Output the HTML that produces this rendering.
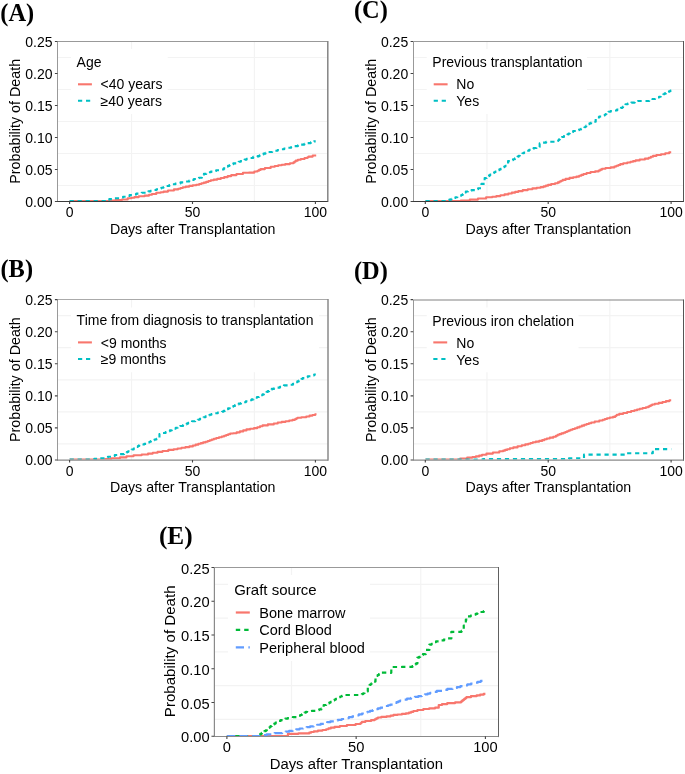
<!DOCTYPE html>
<html><head><meta charset="utf-8"><style>
html,body{margin:0;padding:0;background:#fff;}
body{width:685px;height:774px;overflow:hidden;}
svg{display:block;will-change:transform;}
text{font-family:"Liberation Sans", sans-serif;fill:#000;}
</style></head><body>
<svg width="685" height="774" viewBox="0 0 685 774">
<rect width="685" height="774" fill="#fff"/>
<path d="M131.55 41.5V201.5M254.45 41.5V201.5M57.5 185.5H327.9M57.5 153.5H327.9M57.5 121.5H327.9M57.5 89.5H327.9M57.5 57.5H327.9" stroke="#f3f3f3" stroke-width="1.2" fill="none"/>
<rect x="71" y="49" width="96.7" height="65" fill="#fff"/>
<clipPath id="clipA"><rect x="57.5" y="41.5" width="270.4" height="159.5"/></clipPath>
<g clip-path="url(#clipA)">
<path d="M69.6 201 110 201 111.25 201 111.25 200.6 112.5 200.6 115.45 200.6 115.45 200 118.4 200 121.9 200 121.9 199.5 125.4 199.5 127.7 199.5 127.7 198.3 130 198.3 131.47 198.3 131.47 197.7 134.43 197.7 134.43 197.1 135.9 197.1 138.8 197.1 138.8 196.3 141.7 196.3 144.65 196.3 144.65 195.6 147.6 195.6 149.05 195.6 149.05 194.8 151.95 194.8 151.95 194 153.4 194 156.3 194 156.3 192.8 159.2 192.8 160.67 192.8 160.67 192.2 163.62 192.2 163.62 191.6 165.1 191.6 168 191.6 168 190.5 170.9 190.5 173.95 190.5 173.95 189.4 177 189.4 178.17 189.4 178.17 188.7 180.5 188.7 180.5 188 182.83 188 182.83 187.3 184 187.3 185.75 187.3 185.75 186.6 189.25 186.6 189.25 185.9 191 185.9 192.75 185.9 192.75 185.3 196.25 185.3 196.25 184.7 198 184.7 199.17 184.7 199.17 184 201.5 184 201.5 183.3 203.83 183.3 203.83 182.6 205 182.6 206.17 182.6 206.17 181.83 208.5 181.83 208.5 181.07 210.83 181.07 210.83 180.3 212 180.3 213.75 180.3 213.75 179.6 217.25 179.6 217.25 178.9 219 178.9 220.75 178.9 220.75 178 224.25 178 224.25 177.1 226 177.1 227.75 177.1 227.75 176.1 231.25 176.1 231.25 175.1 233 175.1 236.5 175.1 236.5 174 240 174 242.95 174 242.95 172.8 245.9 172.8 248.95 172.8 248.95 172.6 252 172.6 254.35 172.6 254.35 171.5 256.7 171.5 257.48 171.5 257.48 170.7 259.05 170.7 259.05 169.9 260.62 169.9 260.62 169.1 261.4 169.1 264.9 169.1 264.9 168 268.4 168 270.7 168 270.7 166.8 273 166.8 274.75 166.8 274.75 166.05 278.25 166.05 278.25 165.3 280 165.3 281.75 165.3 281.75 164.7 285.25 164.7 285.25 164.1 287 164.1 289.95 164.1 289.95 163.3 292.9 163.3 293.48 163.3 293.48 162.4 294.65 162.4 294.65 161.5 295.82 161.5 295.82 160.6 296.4 160.6 297.85 160.6 297.85 159.8 300.75 159.8 300.75 159 302.2 159 304.55 159 304.55 158 306.9 158 307.47 158 307.47 157.3 308.62 157.3 308.62 156.6 309.2 156.6 312.7 156.6 312.7 155.5 316.2 155.5" stroke="#F8766D" stroke-width="2.1" fill="none" stroke-linejoin="round"/>
<path d="M69.6 201 106 201 106.9 201 106.9 199.8 107.8 199.8 109.3 199.8 109.3 199.1 110.8 199.1 114.3 199.1 114.3 198.3 117.8 198.3 119.55 198.3 119.55 197.55 123.05 197.55 123.05 196.8 124.8 196.8 126.4 196.8 126.4 195.95 129.6 195.95 129.6 195.1 131.2 195.1 132.95 195.1 132.95 194.35 136.45 194.35 136.45 193.6 138.2 193.6 141.7 193.6 141.7 192.8 145.2 192.8 146.27 192.8 146.27 192.1 148.4 192.1 148.4 191.4 150.53 191.4 150.53 190.7 151.6 190.7 153.22 190.7 153.22 189.95 156.47 189.95 156.47 189.2 158.1 189.2 159.17 189.2 159.17 188.47 161.3 188.47 161.3 187.73 163.43 187.73 163.43 187 164.5 187 166.1 187 166.1 186.05 169.3 186.05 169.3 185.1 170.9 185.1 172.43 185.1 172.43 184.3 175.47 184.3 175.47 183.5 177 183.5 180.5 183.5 180.5 182.4 184 182.4 185.75 182.4 185.75 181.5 189.25 181.5 189.25 180.6 191 180.6 191.98 180.6 191.98 179.83 193.95 179.83 193.95 179.07 195.92 179.07 195.92 178.3 196.9 178.3 198.95 178.3 198.95 177.7 201 177.7 201.85 177.7 201.85 174.8 202.7 174.8 203.88 174.8 203.88 173.9 206.22 173.9 206.22 173 207.4 173 208.57 173 208.57 172.3 210.9 172.3 210.9 171.6 213.23 171.6 213.23 170.9 214.4 170.9 216.15 170.9 216.15 170.2 219.65 170.2 219.65 169.5 221.4 169.5 223.7 169.5 223.7 168.4 226 168.4 226.3 168.4 226.3 167.5 226.9 167.5 226.9 166.6 227.2 166.6 227.98 166.6 227.98 165.83 229.55 165.83 229.55 165.07 231.12 165.07 231.12 164.3 231.9 164.3 233.35 164.3 233.35 163.4 236.25 163.4 236.25 162.5 237.7 162.5 238.68 162.5 238.68 161.8 240.65 161.8 240.65 161.1 242.62 161.1 242.62 160.4 243.6 160.4 244.62 160.4 244.62 159.6 246.65 159.6 246.65 158.8 248.68 158.8 248.68 158 249.7 158 253.2 158 253.2 156.9 256.7 156.9 257.67 156.9 257.67 156.1 259.6 156.1 259.6 155.3 261.53 155.3 261.53 154.5 262.5 154.5 263.48 154.5 263.48 153.67 265.45 153.67 265.45 152.83 267.42 152.83 267.42 152 268.4 152 272.2 152 272.2 150.8 276 150.8 277.6 150.8 277.6 150.05 280.8 150.05 280.8 149.3 282.4 149.3 284.15 149.3 284.15 148.55 287.65 148.55 287.65 147.8 289.4 147.8 291.15 147.8 291.15 146.95 294.65 146.95 294.65 146.1 296.4 146.1 298 146.1 298 145.35 301.2 145.35 301.2 144.6 302.8 144.6 304.4 144.6 304.4 143.85 307.6 143.85 307.6 143.1 309.2 143.1 310.82 143.1 310.82 142.25 314.07 142.25 314.07 141.4 315.7 141.4" stroke="#00BFC4" stroke-width="2.1" fill="none" stroke-linejoin="round" stroke-dasharray="4.2 3.8"/>
</g>
<path d="M57.5 41.5H327.8" stroke="#999" stroke-width="1"/>
<path d="M57.5 41.5V201.5" stroke="#999" stroke-width="1"/>
<path d="M327.8 41V202" stroke="#848484" stroke-width="1.5"/>
<path d="M57 201.5H327.8" stroke="#3a3a3a" stroke-width="1"/>
<path d="M54.9 201.5H57.5M54.9 169.5H57.5M54.9 137.5H57.5M54.9 105.5H57.5M54.9 73.5H57.5M54.9 41.5H57.5M69.6 201.5V204.1M192.5 201.5V204.1M315.4 201.5V204.1" stroke="#444" stroke-width="1.1" fill="none"/>
<text x="52.5" y="206.9" text-anchor="end" font-size="14">0.00</text>
<text x="52.5" y="174.9" text-anchor="end" font-size="14">0.05</text>
<text x="52.5" y="142.9" text-anchor="end" font-size="14">0.10</text>
<text x="52.5" y="110.9" text-anchor="end" font-size="14">0.15</text>
<text x="52.5" y="78.9" text-anchor="end" font-size="14">0.20</text>
<text x="52.5" y="46.9" text-anchor="end" font-size="14">0.25</text>
<text x="69.6" y="217" text-anchor="middle" font-size="14">0</text>
<text x="192.5" y="217" text-anchor="middle" font-size="14">50</text>
<text x="315.4" y="217" text-anchor="middle" font-size="14">100</text>
<text x="192.7" y="233.5" text-anchor="middle" font-size="14.2">Days after Transplantation</text>
<text transform="translate(19.9 121.3) rotate(-90)" text-anchor="middle" font-size="14.3">Probability of Death</text>
<text x="76.6" y="66.8" font-size="14">Age</text>
<path d="M78 84.3H91.9" stroke="#F8766D" stroke-width="2.1"/>
<text x="100.6" y="89.4" font-size="14">&lt;40 years</text>
<path d="M78 100.8H91.9" stroke="#00BFC4" stroke-width="2.1" stroke-dasharray="4.2 3.8"/>
<text x="100.6" y="105.9" font-size="14">≥40 years</text>
<text transform="translate(0.35 20.8) scale(1 1.036)" style="font-family:'Liberation Serif', serif;font-weight:bold" font-size="24.4">(A)</text>
<path d="M486.95 41.5V201.5M609.85 41.5V201.5M413.2 185.5H683.6M413.2 153.5H683.6M413.2 121.5H683.6M413.2 89.5H683.6M413.2 57.5H683.6" stroke="#f3f3f3" stroke-width="1.2" fill="none"/>
<rect x="426.7" y="49" width="160.3" height="65" fill="#fff"/>
<clipPath id="clipC"><rect x="413.2" y="41.5" width="270.4" height="159.5"/></clipPath>
<g clip-path="url(#clipC)">
<path d="M425.5 201 456 201 460.85 201 460.85 200.5 465.7 200.5 469.8 200.5 469.8 199.6 473.9 199.6 477.95 199.6 477.95 198.5 482 198.5 486.1 198.5 486.1 197.3 490.2 197.3 492.25 197.3 492.25 196.7 496.35 196.7 496.35 196.1 498.4 196.1 500.45 196.1 500.45 195.25 504.55 195.25 504.55 194.4 506.6 194.4 508.35 194.4 508.35 193.5 511.85 193.5 511.85 192.6 513.6 192.6 515.2 192.6 515.2 191.85 518.4 191.85 518.4 191.1 520 191.1 522.75 191.1 522.75 190.1 525.5 190.1 527.8 190.1 527.8 189.25 532.4 189.25 532.4 188.4 534.7 188.4 536.68 188.4 536.68 187.75 540.62 187.75 540.62 187.1 542.6 187.1 543.7 187.1 543.7 186.37 545.9 186.37 545.9 185.63 548.1 185.63 548.1 184.9 549.2 184.9 551.15 184.9 551.15 184.05 555.05 184.05 555.05 183.2 557 183.2 557.83 183.2 557.83 182.38 559.48 182.38 559.48 181.55 561.12 181.55 561.12 180.72 562.77 180.72 562.77 179.9 563.6 179.9 565.58 179.9 565.58 178.9 569.52 178.9 569.52 177.9 571.5 177.9 573.15 177.9 573.15 177.25 576.45 177.25 576.45 176.6 578.1 176.6 579.18 176.6 579.18 175.73 581.35 175.73 581.35 174.87 583.52 174.87 583.52 174 584.6 174 586.58 174 586.58 173 590.52 173 590.52 172 592.5 172 595.15 172 595.15 171.4 597.8 171.4 598.65 171.4 598.65 170.5 600.35 170.5 600.35 169.6 602.05 169.6 602.05 168.7 602.9 168.7 605.52 168.7 605.52 168.05 610.77 168.05 610.77 167.4 613.4 167.4 614.39 167.4 614.39 166.57 616.36 166.57 616.36 165.75 618.34 165.75 618.34 164.93 620.31 164.93 620.31 164.1 621.3 164.1 623.27 164.1 623.27 163.3 627.23 163.3 627.23 162.5 629.2 162.5 630.5 162.5 630.5 161.8 633.1 161.8 633.1 161.1 635.7 161.1 635.7 160.4 637 160.4 639.65 160.4 639.65 159.5 644.95 159.5 644.95 158.6 647.6 158.6 648.68 158.6 648.68 157.7 650.85 157.7 650.85 156.8 653.02 156.8 653.02 155.9 654.1 155.9 656.4 155.9 656.4 155.05 661 155.05 661 154.2 663.3 154.2 665.27 154.2 665.27 153.25 669.23 153.25 669.23 152.3 671.2 152.3" stroke="#F8766D" stroke-width="2.1" fill="none" stroke-linejoin="round"/>
<path d="M425.5 201 446 201 447.12 201 447.12 200.3 449.38 200.3 449.38 199.6 450.5 199.6 451.48 199.6 451.48 198.83 453.45 198.83 453.45 198.07 455.42 198.07 455.42 197.3 456.4 197.3 457.37 197.3 457.37 196.53 459.3 196.53 459.3 195.77 461.23 195.77 461.23 195 462.2 195 462.71 195 462.71 194.12 463.74 194.12 463.74 193.25 464.76 193.25 464.76 192.38 465.79 192.38 465.79 191.5 466.3 191.5 468.05 191.5 468.05 190.8 471.55 190.8 471.55 190.1 473.3 190.1 474.9 190.1 474.9 189.2 478.1 189.2 478.1 188.3 479.7 188.3 481.45 188.3 481.45 183.9 483.2 183.9 484.65 183.9 484.65 178 486.1 178 486.69 178 486.69 177.12 487.86 177.12 487.86 176.25 489.04 176.25 489.04 175.38 490.21 175.38 490.21 174.5 490.8 174.5 491.46 174.5 491.46 173.78 492.79 173.78 492.79 173.05 494.11 173.05 494.11 172.32 495.44 172.32 495.44 171.6 496.1 171.6 496.75 171.6 496.75 170.88 498.05 170.88 498.05 170.15 499.35 170.15 499.35 169.42 500.65 169.42 500.65 168.7 501.3 168.7 501.89 168.7 501.89 167.97 503.06 167.97 503.06 167.25 504.24 167.25 504.24 166.53 505.41 166.53 505.41 165.8 506 165.8 508.05 165.8 508.05 161.1 510.1 161.1 511.07 161.1 511.07 160.2 513 160.2 513 159.3 514.93 159.3 514.93 158.4 515.9 158.4 516.45 158.4 516.45 157.53 517.55 157.53 517.55 156.65 518.65 156.65 518.65 155.78 519.75 155.78 519.75 154.9 520.3 154.9 521.04 154.9 521.04 154.07 522.51 154.07 522.51 153.25 523.99 153.25 523.99 152.43 525.46 152.43 525.46 151.6 526.2 151.6 527.18 151.6 527.18 150.73 529.15 150.73 529.15 149.87 531.12 149.87 531.12 149 532.1 149 533.58 149 533.58 148 536.52 148 536.52 147 538 147 539.65 147 539.65 143.4 541.3 143.4 542.92 143.4 542.92 142.6 546.17 142.6 546.17 141.8 547.8 141.8 557 141.8 557.4 141.8 557.4 141 558.2 141 558.2 140.2 559 140.2 559 139.4 559.8 139.4 559.8 138.6 560.6 138.6 560.6 137.8 561 137.8 561.98 137.8 561.98 136.93 563.95 136.93 563.95 136.07 565.92 136.07 565.92 135.2 566.9 135.2 567.48 135.2 567.48 134.38 568.62 134.38 568.62 133.55 569.77 133.55 569.77 132.72 570.92 132.72 570.92 131.9 571.5 131.9 573.15 131.9 573.15 131.05 576.45 131.05 576.45 130.2 578.1 130.2 579.08 130.2 579.08 129.47 581.05 129.47 581.05 128.73 583.02 128.73 583.02 128 584 128 584.46 128 584.46 127.22 585.38 127.22 585.38 126.44 586.3 126.44 586.3 125.66 587.22 125.66 587.22 124.88 588.14 124.88 588.14 124.1 588.6 124.1 589.47 124.1 589.47 123.33 591.2 123.33 591.2 122.57 592.93 122.57 592.93 121.8 593.8 121.8 595.7 121.8 595.7 117.4 597.6 117.4 599.25 117.4 599.25 116.45 602.55 116.45 602.55 115.5 604.2 115.5 604.66 115.5 604.66 114.76 605.58 114.76 605.58 114.02 606.5 114.02 606.5 113.28 607.42 113.28 607.42 112.54 608.34 112.54 608.34 111.8 608.8 111.8 610.6 111.8 610.6 111.15 614.2 111.15 614.2 110.5 616 110.5 616.98 110.5 616.98 109.63 618.95 109.63 618.95 108.77 620.92 108.77 620.92 107.9 621.9 107.9 622.3 107.9 622.3 107.18 623.1 107.18 623.1 106.46 623.9 106.46 623.9 105.74 624.7 105.74 624.7 105.02 625.5 105.02 625.5 104.3 625.9 104.3 627.7 104.3 627.7 103.45 631.3 103.45 631.3 102.6 633.1 102.6 634.75 102.6 634.75 101.8 638.05 101.8 638.05 101 639.7 101 647.6 101 649.23 101 649.23 100 652.48 100 652.48 99 654.1 99 655.08 99 655.08 98.27 657.05 98.27 657.05 97.53 659.02 97.53 659.02 96.8 660 96.8 660.66 96.8 660.66 95.95 661.99 95.95 661.99 95.1 663.31 95.1 663.31 94.25 664.64 94.25 664.64 93.4 665.3 93.4 666.04 93.4 666.04 92.68 667.51 92.68 667.51 91.95 668.99 91.95 668.99 91.22 670.46 91.22 670.46 90.5 671.2 90.5" stroke="#00BFC4" stroke-width="2.1" fill="none" stroke-linejoin="round" stroke-dasharray="4.2 3.8"/>
</g>
<path d="M413.5 41.5H683.5" stroke="#999" stroke-width="1"/>
<path d="M413.5 41.5V201.5" stroke="#999" stroke-width="1"/>
<path d="M683.5 41V202" stroke="#555" stroke-width="1"/>
<path d="M413 201.5H683.5" stroke="#3a3a3a" stroke-width="1"/>
<path d="M410.6 201.5H413.2M410.6 169.5H413.2M410.6 137.5H413.2M410.6 105.5H413.2M410.6 73.5H413.2M410.6 41.5H413.2M425.3 201.5V204.1M548.2 201.5V204.1M671.1 201.5V204.1" stroke="#444" stroke-width="1.1" fill="none"/>
<text x="408.2" y="206.9" text-anchor="end" font-size="14">0.00</text>
<text x="408.2" y="174.9" text-anchor="end" font-size="14">0.05</text>
<text x="408.2" y="142.9" text-anchor="end" font-size="14">0.10</text>
<text x="408.2" y="110.9" text-anchor="end" font-size="14">0.15</text>
<text x="408.2" y="78.9" text-anchor="end" font-size="14">0.20</text>
<text x="408.2" y="46.9" text-anchor="end" font-size="14">0.25</text>
<text x="425.3" y="217" text-anchor="middle" font-size="14">0</text>
<text x="548.2" y="217" text-anchor="middle" font-size="14">50</text>
<text x="671.1" y="217" text-anchor="middle" font-size="14">100</text>
<text x="548.4" y="233.5" text-anchor="middle" font-size="14.2">Days after Transplantation</text>
<text transform="translate(375.6 121.3) rotate(-90)" text-anchor="middle" font-size="14.3">Probability of Death</text>
<text x="432.3" y="66.8" font-size="14">Previous transplantation</text>
<path d="M433.7 84.3H447.6" stroke="#F8766D" stroke-width="2.1"/>
<text x="456.3" y="89.4" font-size="14">No</text>
<path d="M433.7 100.8H447.6" stroke="#00BFC4" stroke-width="2.1" stroke-dasharray="4.2 3.8"/>
<text x="456.3" y="105.9" font-size="14">Yes</text>
<text transform="translate(354 18.2) scale(1 1.036)" style="font-family:'Liberation Serif', serif;font-weight:bold" font-size="24.4">(C)</text>
<path d="M131.55 299.6V460M254.45 299.6V460M57.5 443.96H327.9M57.5 411.88H327.9M57.5 379.8H327.9M57.5 347.72H327.9M57.5 315.64H327.9" stroke="#f3f3f3" stroke-width="1.2" fill="none"/>
<rect x="71" y="307.5" width="248" height="64.8" fill="#fff"/>
<clipPath id="clipB"><rect x="57.5" y="299.6" width="270.4" height="160"/></clipPath>
<g clip-path="url(#clipB)">
<path d="M69.6 459.6 104 459.6 105 459.6 105 459.1 106 459.1 111.25 459.1 111.25 458.3 116.5 458.3 120 458.3 120 457.4 123.5 457.4 126.45 457.4 126.45 456.2 129.4 456.2 133.5 456.2 133.5 455.3 137.6 455.3 141.65 455.3 141.65 454.5 145.7 454.5 148.05 454.5 148.05 453.6 152.75 453.6 152.75 452.7 155.1 452.7 157.57 452.7 157.57 451.85 162.53 451.85 162.53 451 165 451 168.35 451 168.35 449.9 171.7 449.9 173.65 449.9 173.65 449.2 177.55 449.2 177.55 448.5 181.45 448.5 181.45 447.8 183.4 447.8 185.43 447.8 185.43 447.1 189.47 447.1 189.47 446.4 191.5 446.4 192.87 446.4 192.87 445.53 195.6 445.53 195.6 444.67 198.33 444.67 198.33 443.8 199.7 443.8 200.87 443.8 200.87 443.1 203.2 443.1 203.2 442.4 205.53 442.4 205.53 441.7 206.7 441.7 207.72 441.7 207.72 440.98 209.78 440.98 209.78 440.25 211.82 440.25 211.82 439.52 213.88 439.52 213.88 438.8 214.9 438.8 216.27 438.8 216.27 438.03 219 438.03 219 437.27 221.73 437.27 221.73 436.5 223.1 436.5 224.11 436.5 224.11 435.75 226.14 435.75 226.14 435 228.16 435 228.16 434.25 230.19 434.25 230.19 433.5 231.2 433.5 233.1 433.5 233.1 433.3 235 433.3 236.65 433.3 236.65 432.35 239.95 432.35 239.95 431.4 241.6 431.4 243.22 431.4 243.22 430.4 246.47 430.4 246.47 429.4 248.1 429.4 250.07 429.4 250.07 428.75 254.03 428.75 254.03 428.1 256 428.1 257.32 428.1 257.32 427.2 259.95 427.2 259.95 426.3 262.58 426.3 262.58 425.4 263.9 425.4 267.85 425.4 267.85 424.4 271.8 424.4 273.77 424.4 273.77 423.45 277.73 423.45 277.73 422.5 279.7 422.5 281.68 422.5 281.68 421.85 285.62 421.85 285.62 421.2 287.6 421.2 289.23 421.2 289.23 420.55 292.48 420.55 292.48 419.9 294.1 419.9 294.77 419.9 294.77 419.2 296.1 419.2 296.1 418.5 297.43 418.5 297.43 417.8 298.1 417.8 301.35 417.8 301.35 417.3 304.6 417.3 306.25 417.3 306.25 416.45 309.55 416.45 309.55 415.6 311.2 415.6 312.52 415.6 312.52 414.95 315.18 414.95 315.18 414.3 316.5 414.3" stroke="#F8766D" stroke-width="2.1" fill="none" stroke-linejoin="round"/>
<path d="M69.6 459.6 93 459.6 94.25 459.6 94.25 458.9 95.5 458.9 99.3 458.9 99.3 458.3 103.1 458.3 104.7 458.3 104.7 457.55 107.9 457.55 107.9 456.8 109.5 456.8 111.25 456.8 111.25 455.9 114.75 455.9 114.75 455 116.5 455 120 455 120 454.1 123.5 454.1 124.16 454.1 124.16 453.4 125.49 453.4 125.49 452.7 126.81 452.7 126.81 452 128.14 452 128.14 451.3 128.8 451.3 129.77 451.3 129.77 450.4 131.7 450.4 131.7 449.5 133.63 449.5 133.63 448.6 134.6 448.6 135.26 448.6 135.26 447.73 136.59 447.73 136.59 446.85 137.91 446.85 137.91 445.98 139.24 445.98 139.24 445.1 139.9 445.1 141.35 445.1 141.35 444.5 144.25 444.5 144.25 443.9 145.7 443.9 146.44 443.9 146.44 443.17 147.91 443.17 147.91 442.45 149.39 442.45 149.39 441.73 150.86 441.73 150.86 441 151.6 441 152.57 441 152.57 440.23 154.5 440.23 154.5 439.47 156.43 439.47 156.43 438.7 157.4 438.7 159.45 438.7 159.45 434 161.5 434 162.88 434 162.88 433.05 165.62 433.05 165.62 432.1 167 432.1 167.97 432.1 167.97 431.23 169.9 431.23 169.9 430.37 171.83 430.37 171.83 429.5 172.8 429.5 173.78 429.5 173.78 428.6 175.75 428.6 175.75 427.7 177.72 427.7 177.72 426.8 178.7 426.8 180.15 426.8 180.15 425.95 183.05 425.95 183.05 425.1 184.5 425.1 185.24 425.1 185.24 424.35 186.71 424.35 186.71 423.6 188.19 423.6 188.19 422.85 189.66 422.85 189.66 422.1 190.4 422.1 192 422.1 192 421.3 195.2 421.3 195.2 420.5 196.8 420.5 197.77 420.5 197.77 419.7 199.7 419.7 199.7 418.9 201.63 418.9 201.63 418.1 202.6 418.1 203.58 418.1 203.58 417.2 205.55 417.2 205.55 416.3 207.52 416.3 207.52 415.4 208.5 415.4 209.47 415.4 209.47 414.7 211.4 414.7 211.4 414 213.33 414 213.33 413.3 214.3 413.3 217.8 413.3 217.8 412.5 221.3 412.5 222.04 412.5 222.04 411.68 223.51 411.68 223.51 410.85 224.99 410.85 224.99 410.02 226.46 410.02 226.46 409.2 227.2 409.2 228.07 409.2 228.07 408.37 229.8 408.37 229.8 407.53 231.53 407.53 231.53 406.7 232.4 406.7 233.27 406.7 233.27 405.93 235 405.93 235 405.17 236.73 405.17 236.73 404.4 237.6 404.4 238.7 404.4 238.7 403.67 240.9 403.67 240.9 402.93 243.1 402.93 243.1 402.2 244.2 402.2 245.85 402.2 245.85 401.2 249.15 401.2 249.15 400.2 250.8 400.2 251.67 400.2 251.67 399.4 253.4 399.4 253.4 398.6 255.13 398.6 255.13 397.8 256 397.8 256.98 397.8 256.98 396.93 258.95 396.93 258.95 396.07 260.92 396.07 260.92 395.2 261.9 395.2 262.56 395.2 262.56 394.38 263.89 394.38 263.89 393.55 265.21 393.55 265.21 392.72 266.54 392.72 266.54 391.9 267.2 391.9 267.85 391.9 267.85 391.15 269.15 391.15 269.15 390.4 270.45 390.4 270.45 389.65 271.75 389.65 271.75 388.9 272.4 388.9 274.05 388.9 274.05 388.25 277.35 388.25 277.35 387.6 279 387.6 279.98 387.6 279.98 386.87 281.95 386.87 281.95 386.13 283.92 386.13 283.92 385.4 284.9 385.4 288.55 385.4 288.55 384.7 292.2 384.7 292.94 384.7 292.94 383.88 294.41 383.88 294.41 383.05 295.89 383.05 295.89 382.22 297.36 382.22 297.36 381.4 298.1 381.4 298.75 381.4 298.75 380.57 300.05 380.57 300.05 379.75 301.35 379.75 301.35 378.93 302.65 378.93 302.65 378.1 303.3 378.1 304.77 378.1 304.77 377.15 307.73 377.15 307.73 376.2 309.2 376.2 310.85 376.2 310.85 375.35 314.15 375.35 314.15 374.5 315.8 374.5" stroke="#00BFC4" stroke-width="2.1" fill="none" stroke-linejoin="round" stroke-dasharray="4.2 3.8"/>
</g>
<path d="M57.5 299.5H328" stroke="#aaa" stroke-width="1"/>
<path d="M57.5 299.5V460.1" stroke="#999" stroke-width="1"/>
<path d="M328 299V460.8" stroke="#8a8a8a" stroke-width="1.5"/>
<path d="M57 460.1H328" stroke="#8a8a8a" stroke-width="1.4"/>
<path d="M54.9 460H57.5M54.9 427.92H57.5M54.9 395.84H57.5M54.9 363.76H57.5M54.9 331.68H57.5M54.9 299.6H57.5M69.6 460V462.6M192.5 460V462.6M315.4 460V462.6" stroke="#444" stroke-width="1.1" fill="none"/>
<text x="52.5" y="465.4" text-anchor="end" font-size="14">0.00</text>
<text x="52.5" y="433.32" text-anchor="end" font-size="14">0.05</text>
<text x="52.5" y="401.24" text-anchor="end" font-size="14">0.10</text>
<text x="52.5" y="369.16" text-anchor="end" font-size="14">0.15</text>
<text x="52.5" y="337.08" text-anchor="end" font-size="14">0.20</text>
<text x="52.5" y="305" text-anchor="end" font-size="14">0.25</text>
<text x="69.6" y="475.5" text-anchor="middle" font-size="14">0</text>
<text x="192.5" y="475.5" text-anchor="middle" font-size="14">50</text>
<text x="315.4" y="475.5" text-anchor="middle" font-size="14">100</text>
<text x="192.7" y="492" text-anchor="middle" font-size="14.2">Days after Transplantation</text>
<text transform="translate(19.9 379.6) rotate(-90)" text-anchor="middle" font-size="14.3">Probability of Death</text>
<text x="76.6" y="325.2" font-size="14">Time from diagnosis to transplantation</text>
<path d="M78 342.4H91.9" stroke="#F8766D" stroke-width="2.1"/>
<text x="100.8" y="347.8" font-size="14">&lt;9 months</text>
<path d="M78 359H91.9" stroke="#00BFC4" stroke-width="2.1" stroke-dasharray="4.2 3.8"/>
<text x="100.8" y="364.4" font-size="14">≥9 months</text>
<text transform="translate(0.5 277.1) scale(1 1.036)" style="font-family:'Liberation Serif', serif;font-weight:bold" font-size="24.4">(B)</text>
<path d="M486.95 299.6V460M609.85 299.6V460M413.2 443.96H683.6M413.2 411.88H683.6M413.2 379.8H683.6M413.2 347.72H683.6M413.2 315.64H683.6" stroke="#f3f3f3" stroke-width="1.2" fill="none"/>
<rect x="426.7" y="307.5" width="151.8" height="64.8" fill="#fff"/>
<clipPath id="clipD"><rect x="413.2" y="299.6" width="270.4" height="160"/></clipPath>
<g clip-path="url(#clipD)">
<path d="M425.5 459.6 455 459.6 456.7 459.6 460.2 459.6 460.2 458.5 463.7 458.5 467.2 458.5 467.2 457.6 470.7 457.6 472.45 457.6 472.45 457 475.95 457 475.95 456.4 477.7 456.4 479.15 456.4 479.15 455.6 482.05 455.6 482.05 454.8 483.5 454.8 486.45 454.8 486.45 453.6 489.4 453.6 492.9 453.6 492.9 452.5 496.4 452.5 499.3 452.5 499.3 451.3 502.2 451.3 503.18 451.3 503.18 450.6 505.15 450.6 505.15 449.9 507.12 449.9 507.12 449.2 508.1 449.2 509.85 449.2 509.85 448.3 513.35 448.3 513.35 447.4 515.1 447.4 517.55 447.4 517.55 446.2 520 446.2 521.75 446.2 521.75 445.3 525.25 445.3 525.25 444.4 527 444.4 528.17 444.4 528.17 443.7 530.5 443.7 530.5 443 532.83 443 532.83 442.3 534 442.3 535.75 442.3 535.75 441.6 539.25 441.6 539.25 440.9 541 440.9 542.17 440.9 542.17 440.1 544.5 440.1 544.5 439.3 546.83 439.3 546.83 438.5 548 438.5 549.75 438.5 549.75 437.65 553.25 437.65 553.25 436.8 555 436.8 555.88 436.8 555.88 435.8 557.62 435.8 557.62 434.8 558.5 434.8 559.48 434.8 559.48 434.1 561.45 434.1 561.45 433.4 563.42 433.4 563.42 432.7 564.4 432.7 565.27 432.7 565.27 431.98 567.02 431.98 567.02 431.25 568.77 431.25 568.77 430.52 570.52 430.52 570.52 429.8 571.4 429.8 572.57 429.8 572.57 429 574.9 429 574.9 428.2 577.23 428.2 577.23 427.4 578.4 427.4 579.57 427.4 579.57 426.53 581.9 426.53 581.9 425.67 584.23 425.67 584.23 424.8 585.4 424.8 586.57 424.8 586.57 424.03 588.9 424.03 588.9 423.27 591.23 423.27 591.23 422.5 592.4 422.5 594.7 422.5 594.7 421.5 599.3 421.5 599.3 420.5 601.6 420.5 602.68 420.5 602.68 419.73 604.85 419.73 604.85 418.97 607.02 418.97 607.02 418.2 608.1 418.2 609.75 418.2 609.75 417.55 613.05 417.55 613.05 416.9 614.7 416.9 615.13 416.9 615.13 416.17 616 416.17 616 415.43 616.87 415.43 616.87 414.7 617.3 414.7 619.27 414.7 619.27 413.85 623.23 413.85 623.23 413 625.2 413 627.18 413 627.18 412 631.12 412 631.12 411 633.1 411 634.42 411 634.42 410.23 637.05 410.23 637.05 409.47 639.68 409.47 639.68 408.7 641 408.7 642.65 408.7 642.65 408 645.95 408 645.95 407.3 647.6 407.3 648.25 407.3 648.25 406.6 649.55 406.6 649.55 405.9 650.85 405.9 650.85 405.2 652.15 405.2 652.15 404.5 652.8 404.5 654.77 404.5 654.77 403.7 658.73 403.7 658.73 402.9 660.7 402.9 662.45 402.9 662.45 402 665.95 402 665.95 401.1 669.45 401.1 669.45 400.2 671.2 400.2" stroke="#F8766D" stroke-width="2.1" fill="none" stroke-linejoin="round"/>
<path d="M425.5 459.6 483 459.6 483 459 569 459 569 458.2 584 458.2 584 454.6 625 454.6 625 453.2 652.8 453.2 652.8 449.1 671.2 449.1" stroke="#00BFC4" stroke-width="2.1" fill="none" stroke-linejoin="round" stroke-dasharray="4.2 3.8"/>
</g>
<path d="M413.5 300H683.5" stroke="#818181" stroke-width="1"/>
<path d="M413.5 300V460.1" stroke="#999" stroke-width="1"/>
<path d="M683.5 299.5V460.8" stroke="#555" stroke-width="1"/>
<path d="M413 460.1H683.5" stroke="#8a8a8a" stroke-width="1.4"/>
<path d="M410.6 460H413.2M410.6 427.92H413.2M410.6 395.84H413.2M410.6 363.76H413.2M410.6 331.68H413.2M410.6 299.6H413.2M425.3 460V462.6M548.2 460V462.6M671.1 460V462.6" stroke="#444" stroke-width="1.1" fill="none"/>
<text x="408.2" y="465.4" text-anchor="end" font-size="14">0.00</text>
<text x="408.2" y="433.32" text-anchor="end" font-size="14">0.05</text>
<text x="408.2" y="401.24" text-anchor="end" font-size="14">0.10</text>
<text x="408.2" y="369.16" text-anchor="end" font-size="14">0.15</text>
<text x="408.2" y="337.08" text-anchor="end" font-size="14">0.20</text>
<text x="408.2" y="305" text-anchor="end" font-size="14">0.25</text>
<text x="425.3" y="475.5" text-anchor="middle" font-size="14">0</text>
<text x="548.2" y="475.5" text-anchor="middle" font-size="14">50</text>
<text x="671.1" y="475.5" text-anchor="middle" font-size="14">100</text>
<text x="548.4" y="492" text-anchor="middle" font-size="14.2">Days after Transplantation</text>
<text transform="translate(375.6 379.6) rotate(-90)" text-anchor="middle" font-size="14.3">Probability of Death</text>
<text x="432.3" y="325.5" font-size="14">Previous iron chelation</text>
<path d="M433.3 342.4H447.2" stroke="#F8766D" stroke-width="2.1"/>
<text x="456.3" y="348" font-size="14">No</text>
<path d="M433.3 359H447.2" stroke="#00BFC4" stroke-width="2.1" stroke-dasharray="4.2 3.8"/>
<text x="456.3" y="364.6" font-size="14">Yes</text>
<text transform="translate(353.9 278.8) scale(1 1.036)" style="font-family:'Liberation Serif', serif;font-weight:bold" font-size="24.4">(D)</text>
<path d="M291.52 567.5V736.2M420.77 567.5V736.2M214.2 719.33H498.5M214.2 685.59H498.5M214.2 651.85H498.5M214.2 618.11H498.5M214.2 584.37H498.5" stroke="#f3f3f3" stroke-width="1.2" fill="none"/>
<rect x="228" y="575" width="142" height="86" fill="#fff"/>
<clipPath id="clipE"><rect x="214.2" y="567.5" width="284.3" height="168.5"/></clipPath>
<g clip-path="url(#clipE)">
<path d="M226.9 736 287.4 736 287.95 736 287.95 733.8 288.5 733.8 298.45 733.8 298.45 733.4 308.4 733.4 309.27 733.4 309.27 732.7 311.02 732.7 311.02 732 311.9 732 313.92 732 313.92 731.3 317.98 731.3 317.98 730.6 320 730.6 322.5 730.6 322.5 730 325 730 326.17 730 326.17 729.23 328.5 729.23 328.5 728.47 330.83 728.47 330.83 727.7 332 727.7 334.62 727.7 334.62 726.85 339.88 726.85 339.88 726 342.5 726 346.88 726 346.88 725 355.62 725 355.62 724 360 724 360.4 724 360.4 723.3 361.2 723.3 361.2 722.6 362 722.6 362 721.9 362.4 721.9 365.3 721.9 365.3 721 371.1 721 371.1 720.1 374 720.1 374.78 720.1 374.78 719.23 376.35 719.23 376.35 718.37 377.92 718.37 377.92 717.5 378.7 717.5 381.32 717.5 381.32 716.9 386.57 716.9 386.57 716.3 389.2 716.3 390.65 716.3 390.65 715.6 393.55 715.6 393.55 714.9 395 714.9 397.5 714.9 397.5 714.5 400 714.5 401.98 714.5 401.98 713.9 405.92 713.9 405.92 713.3 407.9 713.3 409 713.3 409 712.53 411.2 712.53 411.2 711.77 413.4 711.77 413.4 711 414.5 711 417.45 711 417.45 710 423.35 710 423.35 709 426.3 709 429.25 709 429.25 708.35 435.15 708.35 435.15 707.7 438.1 707.7 438.75 707.7 438.75 705 439.4 705 442.02 705 442.02 704.05 447.27 704.05 447.27 703.1 449.9 703.1 455.15 703.1 455.15 702.4 460.4 702.4 460.95 702.4 460.95 701.53 462.05 701.53 462.05 700.67 463.15 700.67 463.15 699.8 464.25 699.8 464.25 698.93 465.35 698.93 465.35 698.07 466.45 698.07 466.45 697.2 467 697.2 470.95 697.2 470.95 696.2 474.9 696.2 476.65 696.2 476.65 695.43 480.15 695.43 480.15 694.67 483.65 694.67 483.65 693.9 485.4 693.9" stroke="#F8766D" stroke-width="2.21" fill="none" stroke-linejoin="round"/>
<path d="M226.9 736 259.5 736 260.3 736 260.3 733.8 261.1 733.8 261.76 733.8 261.76 732.92 263.09 732.92 263.09 732.05 264.41 732.05 264.41 731.17 265.74 731.17 265.74 730.3 266.4 730.3 266.86 730.3 266.86 729.48 267.78 729.48 267.78 728.66 268.7 728.66 268.7 727.84 269.62 727.84 269.62 727.02 270.54 727.02 270.54 726.2 271 726.2 271.66 726.2 271.66 725.33 272.99 725.33 272.99 724.45 274.31 724.45 274.31 723.58 275.64 723.58 275.64 722.7 276.3 722.7 277.17 722.7 277.17 721.83 278.9 721.83 278.9 720.97 280.63 720.97 280.63 720.1 281.5 720.1 282.77 720.1 282.77 719.4 285.3 719.4 285.3 718.7 287.83 718.7 287.83 718 289.1 718 292.9 718 292.9 717.1 296.7 717.1 297.44 717.1 297.44 716.4 298.91 716.4 298.91 715.7 300.39 715.7 300.39 715 301.86 715 301.86 714.3 302.6 714.3 303.25 714.3 303.25 713.47 304.55 713.47 304.55 712.65 305.85 712.65 305.85 711.83 307.15 711.83 307.15 711 307.8 711 311.9 711 311.9 710.8 316 710.8 317.07 710.8 317.07 710.1 319.2 710.1 319.2 709.4 321.33 709.4 321.33 708.7 322.4 708.7 323.7 708.7 323.7 705 325 705 326.15 705 326.15 704.1 327.3 704.1 327.96 704.1 327.96 703.35 329.29 703.35 329.29 702.6 330.61 702.6 330.61 701.85 331.94 701.85 331.94 701.1 332.6 701.1 333.25 701.1 333.25 700.33 334.55 700.33 334.55 699.55 335.85 699.55 335.85 698.77 337.15 698.77 337.15 698 337.8 698 338.61 698 338.61 697.25 340.24 697.25 340.24 696.5 341.86 696.5 341.86 695.75 343.49 695.75 343.49 695 344.3 695 361.2 695 361.86 695 361.86 694.12 363.19 694.12 363.19 693.25 364.51 693.25 364.51 692.38 365.84 692.38 365.84 691.5 366.5 691.5 367.8 691.5 367.8 685.7 369.1 685.7 369.59 685.7 369.59 684.88 370.57 684.88 370.57 684.06 371.55 684.06 371.55 683.24 372.53 683.24 372.53 682.42 373.51 682.42 373.51 681.6 374 681.6 375.5 681.6 375.5 675.8 377 675.8 377.65 675.8 377.65 675 378.95 675 378.95 674.2 380.25 674.2 380.25 673.4 381.55 673.4 381.55 672.6 382.2 672.6 386.3 672.6 386.3 672.8 390.4 672.8 391.3 672.8 391.3 667 392.2 667 402 667 402 666.9 411.8 666.9 412.38 666.9 412.38 666.08 413.52 666.08 413.52 665.25 414.68 665.25 414.68 664.42 415.82 664.42 415.82 663.6 416.4 663.6 417.4 663.6 417.4 657.7 418.4 657.7 419.05 657.7 419.05 656.83 420.35 656.83 420.35 655.95 421.65 655.95 421.65 655.08 422.95 655.08 422.95 654.2 423.6 654.2 425.75 654.2 425.75 649.9 427.9 649.9 429.4 649.9 429.4 644.6 430.9 644.6 431.64 644.6 431.64 643.77 433.11 643.77 433.11 642.95 434.59 642.95 434.59 642.12 436.06 642.12 436.06 641.3 436.8 641.3 440.4 641.3 440.4 640.3 444 640.3 444.2 640.3 444.2 638.4 450.7 638.4 451.35 638.4 451.35 631.8 452 631.8 461.2 631.8 461.55 631.8 461.55 630.95 462.25 630.95 462.25 630.1 462.6 630.1 463.75 630.1 463.75 625.5 464.9 625.5 465.85 625.5 465.85 619.6 466.8 619.6 467.65 619.6 467.65 616.3 468.5 616.3 470.8 616.3 470.8 615.6 473.1 615.6 473.97 615.6 473.97 614.73 475.7 614.73 475.7 613.87 477.43 613.87 477.43 613 478.3 613 480.1 613 480.1 612 483.7 612 483.7 611 485.5 611" stroke="#00BA38" stroke-width="2.21" fill="none" stroke-linejoin="round" stroke-dasharray="4.4 4"/>
<path d="M226.9 736 260.5 736 262.55 736 262.55 735.2 266.65 735.2 266.65 734.4 268.7 734.4 274.55 734.4 274.55 733.2 280.4 733.2 282.15 733.2 282.15 732.43 285.65 732.43 285.65 731.67 289.15 731.67 289.15 730.9 290.9 730.9 292.65 730.9 292.65 730.1 296.15 730.1 296.15 729.3 299.65 729.3 299.65 728.5 301.4 728.5 303.15 728.5 303.15 727.8 306.65 727.8 306.65 727.1 310.15 727.1 310.15 726.4 311.9 726.4 313.65 726.4 313.65 725.57 317.15 725.57 317.15 724.73 320.65 724.73 320.65 723.9 322.4 723.9 324 723.9 324 723.03 327.2 723.03 327.2 722.17 330.4 722.17 330.4 721.3 332 721.3 333.95 721.3 333.95 720.53 337.85 720.53 337.85 719.77 341.75 719.77 341.75 719 343.7 719 345.45 719 345.45 718.1 348.95 718.1 348.95 717.2 352.45 717.2 352.45 716.3 354.2 716.3 355.75 716.3 355.75 715.37 358.85 715.37 358.85 714.43 361.95 714.43 361.95 713.5 363.5 713.5 364.81 713.5 364.81 712.62 367.44 712.62 367.44 711.75 370.06 711.75 370.06 710.88 372.69 710.88 372.69 710 374 710 375.32 710 375.32 709.17 377.98 709.17 377.98 708.35 380.62 708.35 380.62 707.53 383.28 707.53 383.28 706.7 384.6 706.7 385.76 706.7 385.76 705.98 388.09 705.98 388.09 705.25 390.41 705.25 390.41 704.52 392.74 704.52 392.74 703.8 393.9 703.8 394.79 703.8 394.79 702.97 396.56 702.97 396.56 702.15 398.34 702.15 398.34 701.33 400.11 701.33 400.11 700.5 401 700.5 403.02 700.5 403.02 699.6 407.05 699.6 407.05 698.7 411.08 698.7 411.08 697.8 413.1 697.8 414.85 697.8 414.85 696.93 418.35 696.93 418.35 696.07 421.85 696.07 421.85 695.2 423.6 695.2 424.93 695.2 424.93 694.38 427.57 694.38 427.57 693.55 430.23 693.55 430.23 692.73 432.88 692.73 432.88 691.9 434.2 691.9 436.82 691.9 436.82 690.9 442.07 690.9 442.07 689.9 444.7 689.9 447.32 689.9 447.32 688.95 452.57 688.95 452.57 688 455.2 688 456.95 688 456.95 687.1 460.45 687.1 460.45 686.2 463.95 686.2 463.95 685.3 465.7 685.3 467.45 685.3 467.45 684.43 470.95 684.43 470.95 683.57 474.45 683.57 474.45 682.7 476.2 682.7 477.73 682.7 477.73 681.83 480.8 681.83 480.8 680.97 483.87 680.97 483.87 680.1 485.4 680.1" stroke="#619CFF" stroke-width="2.21" fill="none" stroke-linejoin="round" stroke-dasharray="8.2 4.4"/>
</g>
<path d="M214.4 567.5H498.5" stroke="#999" stroke-width="1"/>
<path d="M214.4 567.5V736.55" stroke="#8a8a8a" stroke-width="1.2"/>
<path d="M498.5 567V737.1" stroke="#606060" stroke-width="1"/>
<path d="M213.8 736.55H498.5" stroke="#8a8a8a" stroke-width="1.1"/>
<path d="M211.47 736.2H214.2M211.47 702.46H214.2M211.47 668.72H214.2M211.47 634.98H214.2M211.47 601.24H214.2M211.47 567.5H214.2M226.9 736.2V738.93M356.15 736.2V738.93M485.4 736.2V738.93" stroke="#444" stroke-width="1.1" fill="none"/>
<text x="209.7" y="742.3" text-anchor="end" font-size="14.7">0.00</text>
<text x="209.7" y="708.56" text-anchor="end" font-size="14.7">0.05</text>
<text x="209.7" y="674.82" text-anchor="end" font-size="14.7">0.10</text>
<text x="209.7" y="641.08" text-anchor="end" font-size="14.7">0.15</text>
<text x="209.7" y="607.34" text-anchor="end" font-size="14.7">0.20</text>
<text x="209.7" y="573.6" text-anchor="end" font-size="14.7">0.25</text>
<text x="226.9" y="752.48" text-anchor="middle" font-size="14.7">0</text>
<text x="356.15" y="752.48" text-anchor="middle" font-size="14.7">50</text>
<text x="485.4" y="752.48" text-anchor="middle" font-size="14.7">100</text>
<text x="356.35" y="769.2" text-anchor="middle" font-size="14.85">Days after Transplantation</text>
<text transform="translate(174.8 651.3) rotate(-90)" text-anchor="middle" font-size="15.1">Probability of Death</text>
<text x="234.2" y="594.8" font-size="15">Graft source</text>
<path d="M235.8 612.5H249.8" stroke="#F8766D" stroke-width="2.21"/>
<text x="259.3" y="617.8" font-size="14.5">Bone marrow</text>
<path d="M235.8 629.9H249.8" stroke="#00BA38" stroke-width="2.21" stroke-dasharray="4.4 4"/>
<text x="259.3" y="635.2" font-size="14.5">Cord Blood</text>
<path d="M235.8 647.3H249.8" stroke="#619CFF" stroke-width="2.21" stroke-dasharray="8.2 4.4"/>
<text x="259.3" y="652.6" font-size="14.5">Peripheral blood</text>
<text transform="translate(158.9 543.5) scale(1 1.036)" style="font-family:'Liberation Serif', serif;font-weight:bold" font-size="25.3">(E)</text>
</svg>
</body></html>
